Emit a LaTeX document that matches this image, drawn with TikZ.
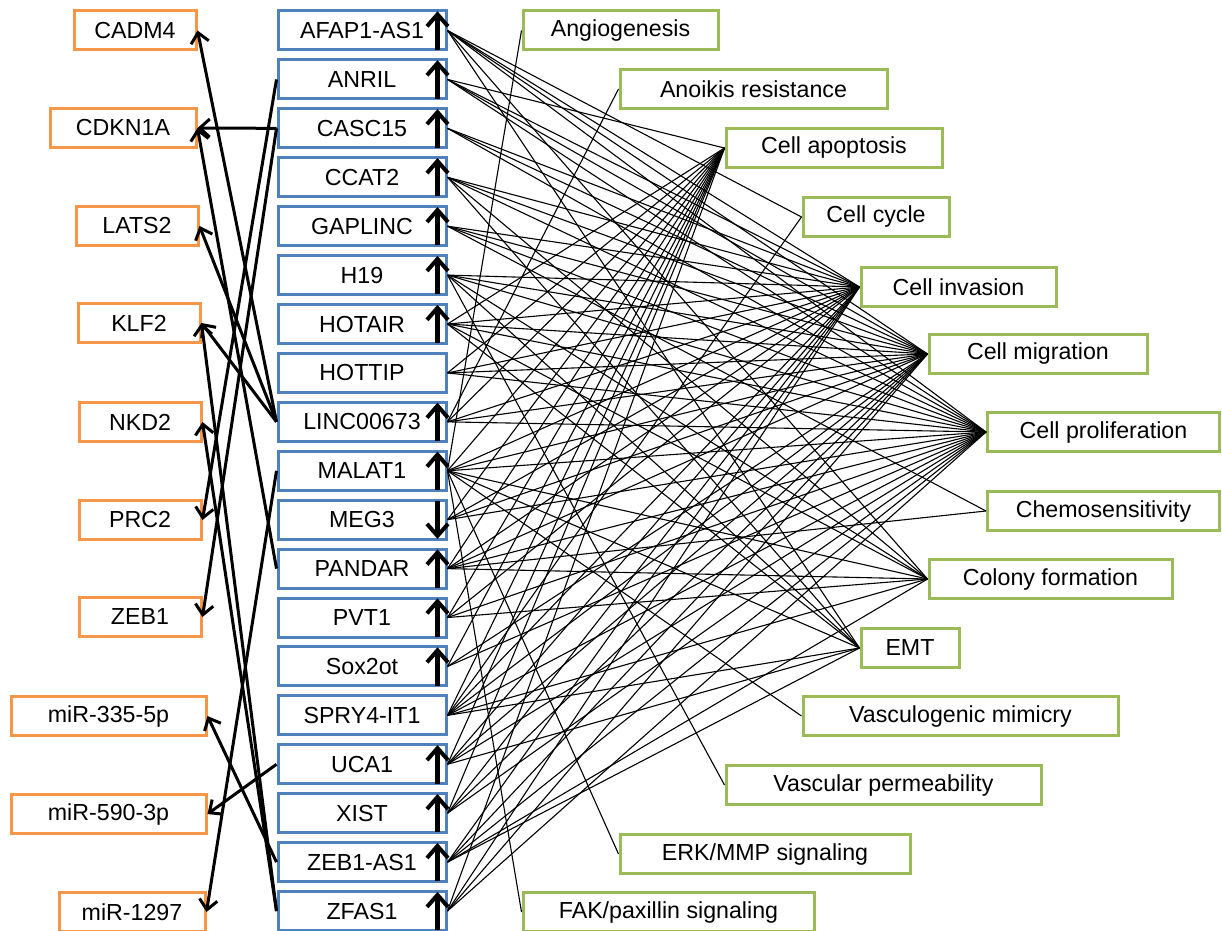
\documentclass[tikz,border=0pt]{standalone}
\usepackage{fontspec}
\setmainfont{Liberation Sans}
\usetikzlibrary{arrows.meta}
\definecolor{lblue}{RGB}{79,129,189}
\definecolor{lorange}{RGB}{247,150,70}
\definecolor{lgreen}{RGB}{155,187,89}
\begin{document}
\begin{tikzpicture}[x=0.5pt,y=-0.5pt,
  box/.style={draw, line width=1.5pt, inner sep=0pt, minimum height=19.5pt, font=\fontsize{11.6}{13}\selectfont},
  lnc/.style={box, draw=lblue, minimum width=84pt},
  gen/.style={box, draw=lorange},
  fun/.style={box, draw=lgreen},
  link/.style={line width=0.55pt},
  reg/.style={line width=1.5pt, -{Straight Barb[length=5pt,width=9pt,line width=1.5pt]}},
  updown/.style={line width=2.6pt, -{Straight Barb[length=6pt,width=10.5pt,line width=2pt]}}
]
\useasboundingbox (0,0) rectangle (1222,931);
% lncRNAs
\foreach \n [count=\i from 0] in {AFAP1-AS1,ANRIL,CASC15,CCAT2,GAPLINC,H19,HOTAIR,HOTTIP,LINC00673,MALAT1,MEG3,PANDAR,PVT1,Sox2ot,SPRY4-IT1,UCA1,XIST,ZEB1-AS1,ZFAS1}
  \node[lnc] (m\i) at (362,{30.5+48.92*\i}) {\n\hspace{6pt}};
% up / down arrows
\foreach \i in {0,1,2,3,4,5,6,8,9,11,12,13,15,16,17,18}
  \draw[updown] ([xshift=-5pt,yshift=-9.6pt]m\i.east) -- ([xshift=-5pt,yshift=9.6pt]m\i.east);
\draw[updown] ([xshift=-5pt,yshift=9.6pt]m10.east) -- ([xshift=-5pt,yshift=-9.6pt]m10.east);
% genes
\node[gen, minimum width=61pt] (CADM4) at (135,30.5) {CADM4};
\node[gen, minimum width=73pt] (CDKN1A) at (123,128) {CDKN1A};
\node[gen, minimum width=61pt] (LATS2) at (137,226) {LATS2};
\node[gen, minimum width=61pt] (KLF2) at (139,323) {KLF2};
\node[gen, minimum width=61pt] (NKD2) at (140,422) {NKD2};
\node[gen, minimum width=61pt] (PRC2) at (140,520) {PRC2};
\node[gen, minimum width=61pt] (ZEB1) at (140,617) {ZEB1};
\node[gen, minimum width=97.5pt] (mir335) at (108.5,716) {miR-335-5p};
\node[gen, minimum width=97.5pt] (mir590) at (108.5,814) {miR-590-3p};
\node[gen, minimum width=73pt] (mir1297) at (132,912) {miR-1297};
% functions
\node[fun, minimum width=97.5pt] (f1) at (620.5,30.5) {Angiogenesis};
\node[fun, minimum width=133.5pt] (f2) at (753.5,89) {Anoikis resistance};
\node[fun, minimum width=108pt] (f3) at (834,148) {Cell apoptosis};
\node[fun, minimum width=73pt] (f4) at (876,217) {Cell cycle};
\node[fun, minimum width=97.5pt] (f5) at (958.5,287) {Cell invasion};
\node[fun, minimum width=109pt] (f6) at (1038,354) {Cell migration};
\node[fun, minimum width=116pt] (f7) at (1103.5,432) {Cell proliferation};
\node[fun, minimum width=116pt] (f8) at (1103.5,511) {Chemosensitivity};
\node[fun, minimum width=121.5pt] (f9) at (1050.5,579) {Colony formation};
\node[fun, minimum width=49pt] (f10) at (910,648) {EMT};
\node[fun, minimum width=157.5pt] (f11) at (960.5,716) {Vasculogenic mimicry};
\node[fun, minimum width=157.5pt] (f12) at (883.5,785) {Vascular permeability};
\node[fun, minimum width=145pt] (f13) at (765,854) {ERK/MMP signaling};
\node[fun, minimum width=145.5pt] (f14) at (668.5,912) {FAK/paxillin signaling};
% regulation arrows
\draw[reg] (m8.west) -- (CADM4.east);
\draw[reg] (m8.west) -- (LATS2.east);
\draw[reg] (m8.west) -- (KLF2.east);
\draw[reg] (m2.west) -- (CDKN1A.east);
\draw[reg] (m11.west) -- (CDKN1A.east);
\draw[reg] (m2.west) -- (ZEB1.east);
\draw[reg] (m1.west) -- (PRC2.east);
\draw[reg] (m18.west) -- (KLF2.east);
\draw[reg] (m18.west) -- (NKD2.east);
\draw[reg] (m9.west) -- (mir1297.east);
\draw[reg] (m15.west) -- (mir590.east);
\draw[reg] (m17.west) -- (mir335.east);
% function links
\foreach \s/\t in {0/4,0/5,0/6,0/7,0/9,0/10,
  1/3,1/5,1/6,1/7,
  2/5,2/6,2/7,
  3/5,3/6,3/7,3/9,3/10,
  4/5,4/6,4/7,4/8,
  5/5,5/6,5/7,5/9,5/10,5/12,
  6/3,6/5,6/6,6/7,6/9,6/10,
  7/3,7/5,7/6,7/7,
  8/2,8/3,8/5,8/6,8/7,
  9/1,9/3,9/5,9/6,9/7,9/9,9/10,9/11,9/13,9/14,
  10/3,10/5,10/6,10/7,
  11/3,11/5,11/6,11/7,11/8,11/9,
  12/3,12/5,12/7,12/9,
  13/3,13/6,13/7,
  14/3,14/4,14/5,14/6,14/7,14/9,14/10,
  15/3,15/5,15/6,15/7,15/10,
  16/3,16/5,16/6,16/7,
  17/5,17/6,17/7,17/9,17/10,
  18/5,18/6,18/7,18/3}
  \draw[link] (m\s.east) -- (f\t.west);
\end{tikzpicture}
\end{document}
